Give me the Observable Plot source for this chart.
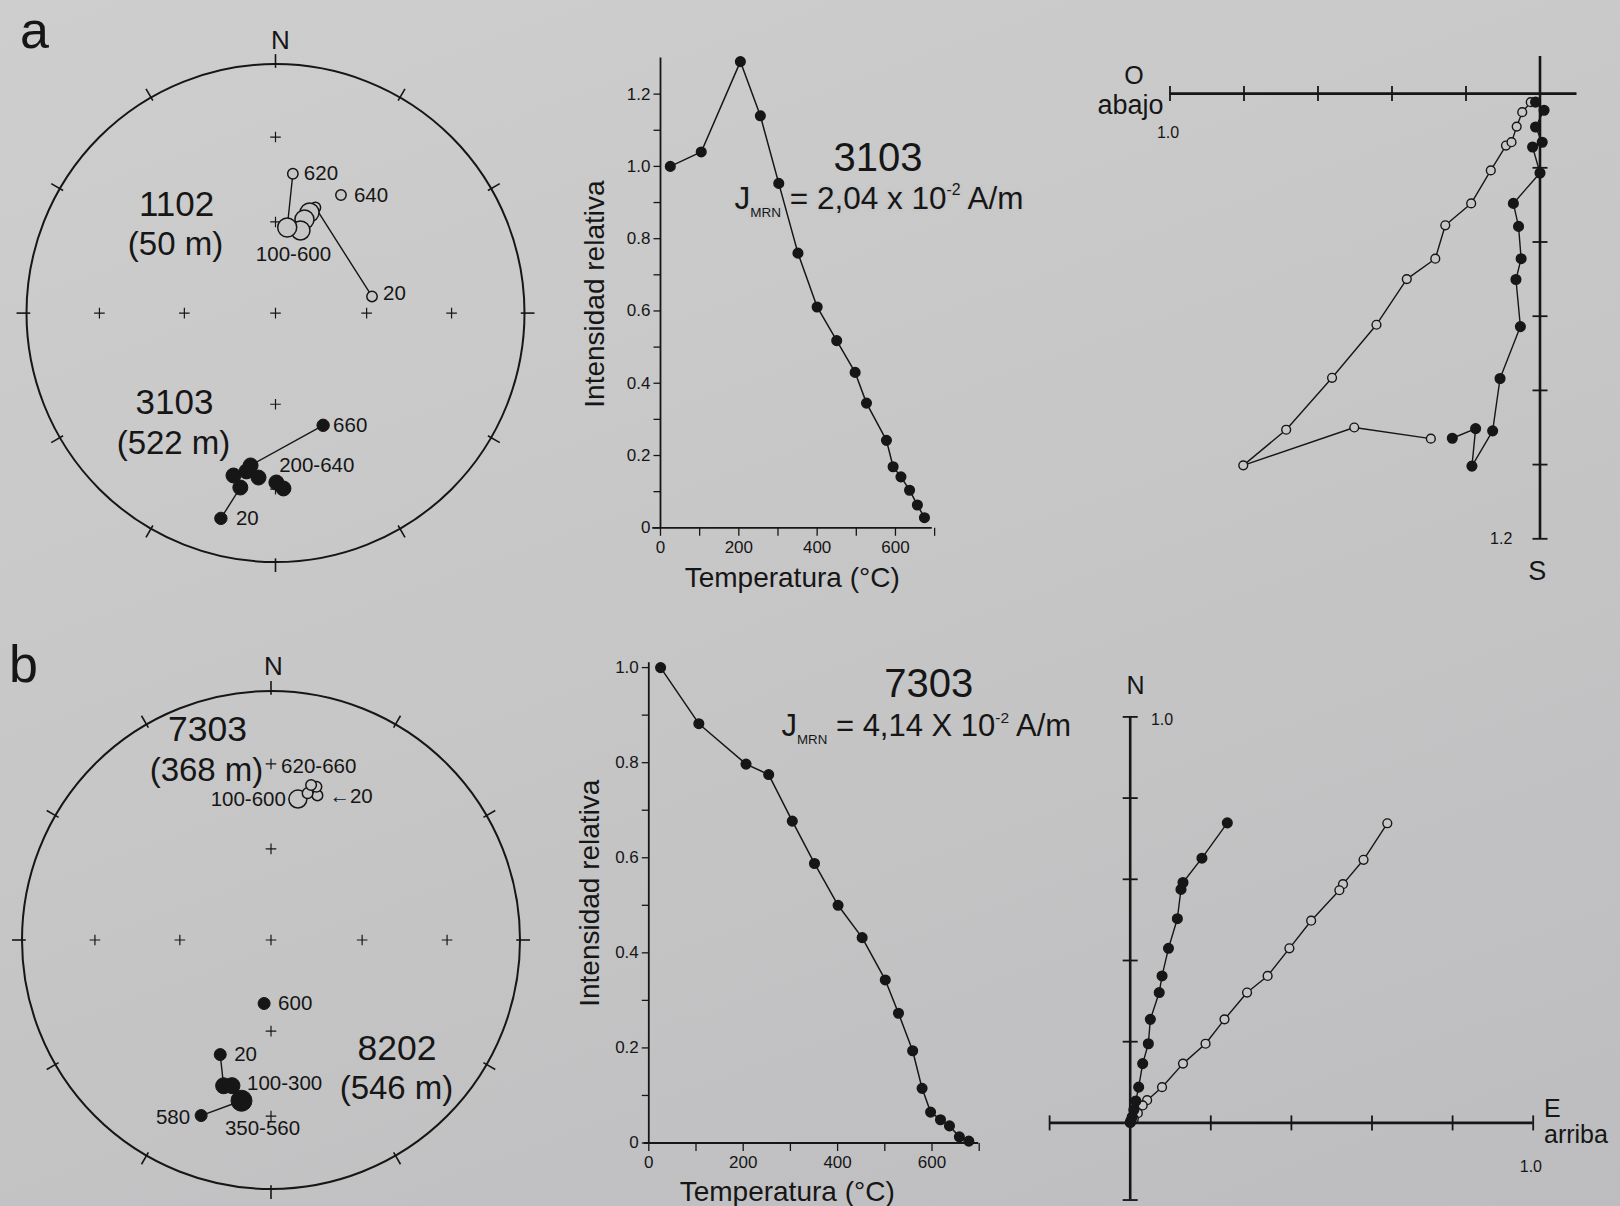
<!DOCTYPE html>
<html lang="es">
<head>
<meta charset="utf-8">
<title>Desmagnetización térmica</title>
<script src="https://cdn.jsdelivr.net/npm/d3@7"></script>
<script src="https://cdn.jsdelivr.net/npm/@observablehq/plot@0.6"></script>
<style>
  html, body { margin: 0; padding: 0; background: #c6c6c7; }
  #fig { position: relative; width: 1620px; height: 1206px; overflow: hidden;
         background: linear-gradient(160deg, #cecece 0%, #c7c7c8 45%, #bdbdbf 100%); }
  #fig svg { position: absolute; overflow: visible; }
</style>
</head>
<body>
<div id="fig"></div>
<script>
// ================= DATA =================
// --- Stereonet a: site 1102 (open = upper hemisphere) ---
const s1102_T = [20, 100, 200, 300, 400, 600, 620, 640];
const s1102_D = [80.2, 20.7, 18.7, 17.2, 16.8, 7.8, 7.1, 29.0];
const s1102_I = [-57.7, -52.6, -54.9, -57.7, -61.6, -61.6, -43.0, -44.9];
const s1102_path = [20, 100, 200, 300, 400, 600, 620];
// --- site 3103 (filled = lower hemisphere) ---
const s3103_T = [20, 100, 200, 250, 300, 400, 500, 600, 660];
const s3103_D = [194.9, 191.4, 194.5, 190.4, 189.3, 185.9, 179.7, 177.4, 157.0];
const s3103_I = [15.8, 29.3, 33.1, 35.6, 38.0, 34.0, 32.5, 30.2, 49.5];
const s3103_path = [20, 100, 200, 250, 300, 660];
// --- Stereonet b: site 7303 (open) ---
const s7303_T = [20, 100, 620, 640, 660];
const s7303_D = [17.8, 10.8, 14.0, 16.5, 14.5];
const s7303_I = [-38.9, -41.9, -39.1, -36.0, -35.9];
// --- site 8202 (filled) ---
const s8202_T = [20, 100, 300, 350, 580, 600];
const s8202_D = [203.9, 198.0, 195.0, 190.4, 201.7, 186.2];
const s8202_I = [48.3, 38.4, 39.3, 34.7, 25.1, 69.1];
const s8202_path = [20, 100, 300, 350, 580];
// --- net furniture ---
const netTickAz = [0, 30, 60, 90, 120, 150, 180, 210, 240, 270, 300, 330];
const gridAz = [0, 90, 180, 270];
const gridInc = [60, 30];

// --- Intensity curves ---
const intA_T = [25, 104, 204, 255, 302, 351, 400, 450, 497, 526, 577, 594, 614, 636, 656, 674];
const intA_J = [1.00, 1.04, 1.29, 1.14, 0.953, 0.760, 0.611, 0.518, 0.430, 0.345, 0.242, 0.169, 0.141, 0.104, 0.063, 0.028];
const intB_T = [25, 106, 206, 254, 304, 351, 401, 452, 501, 529, 559, 579, 597, 618, 637, 658, 678];
const intB_J = [1.000, 0.882, 0.797, 0.775, 0.677, 0.588, 0.500, 0.432, 0.343, 0.273, 0.194, 0.115, 0.065, 0.049, 0.036, 0.013, 0.004];
const tempTicks = [0, 100, 200, 300, 400, 500, 600, 700];
const tempLabels = [0, 200, 400, 600];
const intA_yTicks = [0, 0.1, 0.2, 0.3, 0.4, 0.5, 0.6, 0.7, 0.8, 0.9, 1.0, 1.1, 1.2];
const intA_yLabels = [0, 0.2, 0.4, 0.6, 0.8, 1.0, 1.2];
const intB_yTicks = [0, 0.1, 0.2, 0.3, 0.4, 0.5, 0.6, 0.7, 0.8, 0.9, 1.0];
const intB_yLabels = [0, 0.2, 0.4, 0.6, 0.8, 1.0];

// --- Zijderveld a (3103) ---
const zijA_hX = [-0.237, -0.174, -0.184, -0.128, -0.108, -0.053, -0.065, -0.051, -0.058, -0.072, 0.000, -0.020, 0.006, -0.012, 0.011, -0.012];
const zijA_hY = [-0.929, -0.903, -1.004, -0.909, -0.768, -0.628, -0.501, -0.445, -0.358, -0.296, -0.214, -0.144, -0.131, -0.090, -0.045, -0.023];
const zijA_vX = [-0.295, -0.502, -0.802, -0.686, -0.562, -0.442, -0.360, -0.283, -0.256, -0.186, -0.133, -0.092, -0.077, -0.063, -0.048, -0.025];
const zijA_vY = [-0.930, -0.900, -1.002, -0.906, -0.766, -0.623, -0.500, -0.445, -0.355, -0.296, -0.207, -0.140, -0.131, -0.089, -0.050, -0.023];
const zijA_hTicks = [-1.0, -0.8, -0.6, -0.4, -0.2];
const zijA_vTicks = [-0.2, -0.4, -0.6, -0.8, -1.0, -1.2];
// --- Zijderveld b (7303) ---
const zijB_hX = [0.241, 0.178, 0.131, 0.126, 0.117, 0.095, 0.079, 0.072, 0.050, 0.045, 0.031, 0.021, 0.014, 0.009, 0.005, 0.002, 0.000];
const zijB_hY = [0.739, 0.652, 0.592, 0.575, 0.503, 0.430, 0.362, 0.321, 0.255, 0.195, 0.146, 0.088, 0.054, 0.032, 0.015, 0.006, 0.001];
const zijB_vX = [0.638, 0.579, 0.528, 0.519, 0.449, 0.395, 0.341, 0.290, 0.234, 0.187, 0.131, 0.079, 0.042, 0.031, 0.019, 0.009, 0.002];
const zijB_vY = [0.738, 0.648, 0.588, 0.573, 0.498, 0.430, 0.362, 0.321, 0.255, 0.195, 0.146, 0.088, 0.056, 0.043, 0.024, 0.010, 0.002];
const zijB_hTicks = [-0.2, 0.2, 0.4, 0.6, 0.8, 1.0];
const zijB_vTicks = [-0.19, 0.2, 0.4, 0.6, 0.8, 1.0];

// ================= HELPERS =================
const INK = "#161616", BG = "#c7c7c8";
const FONT = '"Liberation Sans", Arial, Helvetica, sans-serif';
const STYLE = {background: "transparent", fontFamily: FONT, fontSize: "16px", color: INK, overflow: "visible"};
const rad = Math.PI / 180;
const fig = document.getElementById("fig");

function proj(D, I) {
  const r = Math.SQRT2 * Math.sin((90 - Math.abs(I)) / 2 * rad);
  return {x: r * Math.sin(D * rad), y: r * Math.cos(D * rad)};
}
function site(T, D, I) { return T.map((t, i) => ({T: t, D: D[i], I: I[i], ...proj(D[i], I[i])})); }
function pick(pts, temps) { return temps.map(t => pts.find(d => d.T === t)); }
function seg(x1, y1, x2, y2) { return {draw(c) { c.moveTo(x1, y1); c.lineTo(x2, y2); }}; }
function plus(h) { return {draw(c) { c.moveTo(-h, 0); c.lineTo(h, 0); c.moveTo(0, -h); c.lineTo(0, h); }}; }

function richify(svg) {
  svg.querySelectorAll("text").forEach(el => {
    const t = el.textContent;
    if (!/[_^]\{/.test(t)) return;
    const fs = parseFloat(getComputedStyle(el).fontSize) || 16;
    while (el.firstChild) el.removeChild(el.firstChild);
    let cur = 0, last = 0, m;
    const add = (s, off, scale) => {
      const ts = document.createElementNS("http://www.w3.org/2000/svg", "tspan");
      ts.textContent = s;
      ts.setAttribute("dy", (off - cur).toFixed(2));
      if (scale !== 1) ts.setAttribute("font-size", (fs * scale).toFixed(1));
      el.appendChild(ts); cur = off;
    };
    const re = /([_^])\{([^}]*)\}/g;
    while ((m = re.exec(t))) {
      if (m.index > last) add(t.slice(last, m.index), 0, 1);
      if (m[1] === "_") add(m[2], 0.26 * fs, 0.43); else add(m[2], -0.42 * fs, 0.5);
      last = re.lastIndex;
    }
    if (last < t.length) add(t.slice(last), 0, 1);
  });
}
function mount(svg, left, top) {
  svg.style.left = left + "px"; svg.style.top = top + "px";
  fig.appendChild(svg); richify(svg);
}
// free text placed in the panel's own pixel frame (annotation)
function note(str, x, y, o = {}) {
  return Plot.text([str], {frameAnchor: "top-left", dx: x, dy: y, text: d => d, fill: INK,
    fontFamily: FONT, lineAnchor: "bottom", textAnchor: "middle", ...o});
}
// label attached to a data point
function tag(pts, T, text, dx, dy, anchor = "start", fs = 20.5) {
  return Plot.text(pts.filter(d => d.T === T), {x: "x", y: "y", text: () => text, dx, dy,
    textAnchor: anchor, fontSize: fs, fill: INK, fontFamily: FONT});
}

// ================= STEREONETS =================
const gridPts = [{D: 0, I: 90}, ...gridInc.flatMap(i => gridAz.map(a => ({D: a, I: i})))].map(d => proj(d.D, d.I));
function net(box, cx, cy, R, extra) {
  const svg = Plot.plot({
    width: box.width, height: box.height, margin: 0,
    x: {domain: [-cx / R, (box.width - cx) / R], axis: null},
    y: {domain: [(cy - box.height) / R, cy / R], axis: null},
    style: STYLE,
    marks: [
      Plot.dot([{x: 0, y: 0}], {x: "x", y: "y", r: R, fill: "none", stroke: INK, strokeWidth: 2}),
      Plot.link(netTickAz, {
        x1: a => 0.985 * Math.sin(a * rad), y1: a => 0.985 * Math.cos(a * rad),
        x2: a => 1.04 * Math.sin(a * rad), y2: a => 1.04 * Math.cos(a * rad),
        stroke: INK, strokeWidth: 1.6}),
      Plot.dot(gridPts, {x: "x", y: "y", symbol: plus(5.3), fill: "none", stroke: INK, strokeWidth: 1.2}),
      ...extra
    ]
  });
  mount(svg, box.left, box.top);
}

const p1102 = site(s1102_T, s1102_D, s1102_I);
const p3103 = site(s3103_T, s3103_D, s3103_I);
const p7303 = site(s7303_T, s7303_D, s7303_I);
const p8202 = site(s8202_T, s8202_D, s8202_I);
const openDot = {x: "x", y: "y", fill: BG, stroke: INK, strokeWidth: 1.5};
const fullDot = {x: "x", y: "y", fill: INK, stroke: INK, strokeWidth: 1};

net({left: 0, top: 0, width: 580, height: 600}, 275, 312.6, 249, [
  Plot.line(pick(p1102, s1102_path), {x: "x", y: "y", stroke: INK, strokeWidth: 1.4}),
  Plot.line(pick(p3103, s3103_path), {x: "x", y: "y", stroke: INK, strokeWidth: 1.4}),
  Plot.dot(p1102.filter(d => [20, 100, 620, 640].includes(d.T)), {...openDot, r: 5.2}),
  Plot.dot(p1102.filter(d => d.T >= 200 && d.T <= 600), {...openDot, r: 9.5}),
  Plot.dot(p3103.filter(d => d.T === 20 || d.T === 660), {...fullDot, r: 6.2}),
  Plot.dot(p3103.filter(d => d.T > 20 && d.T < 660), {...fullDot, r: 7.5}),
  tag(p1102, 620, "620", 11, 0),
  tag(p1102, 640, "640", 13, 0),
  tag(p1102, 20, "20", 11, -3),
  tag(p1102, 400, "100-600", -7, 24, "middle"),
  tag(p3103, 660, "660", 10, 0),
  tag(p3103, 300, "200-640", 28.6, 0),
  tag(p3103, 20, "20", 15, 0),
  note("a", 34, 47, {fontSize: 52}),
  note("N", 280, 48, {fontSize: 26}),
  note("1102", 176, 215, {fontSize: 35}),
  note("(50 m)", 175, 254, {fontSize: 33}),
  note("3103", 174, 413.5, {fontSize: 35}),
  note("(522 m)", 173, 453.5, {fontSize: 33})
]);

net({left: 0, top: 600, width: 580, height: 606}, 270.5, 339.5, 249, [
  Plot.line(pick(p8202, s8202_path), {x: "x", y: "y", stroke: INK, strokeWidth: 1.4}),
  Plot.dot(p7303.filter(d => d.T === 100), {...openDot, r: 9}),
  Plot.dot(p7303.filter(d => d.T !== 100), {...openDot, r: 5.3}),
  Plot.dot(p8202.filter(d => [20, 580, 600].includes(d.T)), {...fullDot, r: 6}),
  Plot.dot(p8202.filter(d => d.T === 100 || d.T === 300), {...fullDot, r: 8}),
  Plot.dot(p8202.filter(d => d.T === 350), {...fullDot, r: 10.5}),
  tag(p7303, 100, "100-600", -12, 0, "end"),
  tag(p7303, 660, "620-660", -30, -19),
  tag(p7303, 20, "←20", 12, 1),
  tag(p8202, 600, "600", 14, 0),
  tag(p8202, 20, "20", 14, 0),
  tag(p8202, 300, "100-300", 15, -2),
  tag(p8202, 350, "350-560", 21, 28, "middle"),
  tag(p8202, 580, "580", -11, 2, "end"),
  note("b", 23, 81, {fontSize: 52}),
  note("N", 273, 74.2, {fontSize: 26}),
  note("7303", 207, 140.5, {fontSize: 35.5}),
  note("(368 m)", 206, 780.5 - 600, {fontSize: 33}),
  note("8202", 396.4, 459.1, {fontSize: 35.5}),
  note("(546 m)", 396, 498.8, {fontSize: 33})
]);

// ================= INTENSITY CURVES =================
function intensity(box, x0, kx, y0, ky, T, J, yTicks, yLabels, xAxis, yTop, texts) {
  const data = T.map((t, i) => ({T: t, J: J[i]}));
  const svg = Plot.plot({
    width: box.width, height: box.height, margin: 0,
    x: {domain: [-x0 / kx, (box.width - x0) / kx], axis: null},
    y: {domain: [(y0 - box.height) / ky, y0 / ky], axis: null},
    style: STYLE,
    marks: [
      Plot.ruleY([0], {x1: xAxis[0], x2: xAxis[1], stroke: INK, strokeWidth: 1.8}),
      Plot.ruleX([0], {y1: 0, y2: yTop, stroke: INK, strokeWidth: 1.8}),
      Plot.dot(tempTicks, {x: d => d, y: 0, symbol: seg(0, 0, 0, 8), fill: "none", stroke: INK, strokeWidth: 1.3}),
      Plot.dot(yTicks, {x: 0, y: d => d, symbol: seg(-7, 0, 0, 0), fill: "none", stroke: INK, strokeWidth: 1.3}),
      Plot.text(tempLabels, {x: d => d, y: 0, dy: 20, text: d => String(d), fontSize: 17, fill: INK, fontFamily: FONT}),
      Plot.text(yLabels, {x: 0, y: d => d, dx: -10, textAnchor: "end", text: d => d === 0 ? "0" : d.toFixed(1), fontSize: 17, fill: INK, fontFamily: FONT}),
      Plot.line(data, {x: "T", y: "J", stroke: INK, strokeWidth: 1.5}),
      Plot.dot(data, {x: "T", y: "J", r: 4.8, fill: INK, stroke: INK}),
      ...texts
    ]
  });
  mount(svg, box.left, box.top);
}

intensity({left: 540, top: 0, width: 560, height: 600}, 120, 0.3916, 527.3, 361.4,
  intA_T, intA_J, intA_yTicks, intA_yLabels, [-20, 694], 1.3, [
  note("3103", 337.5, 170, {fontSize: 40}),
  note("J_{MRN} = 2,04 x 10^{-2} A/m", 194, 208, {fontSize: 31.5, textAnchor: "start", stroke: BG, strokeWidth: 5, paintOrder: "stroke"}),
  note("Intensidad relativa", 55, 293.6, {fontSize: 28, rotate: -90, lineAnchor: "middle"}),
  note("Temperatura (°C)", 251.7, 586, {fontSize: 28})
]);

intensity({left: 540, top: 600, width: 520, height: 606}, 108.3, 0.472, 542.5, 475.4,
  intB_T, intB_J, intB_yTicks, intB_yLabels, [-10, 699], 1.01, [
  note("7303", 388.3, 96, {fontSize: 40}),
  note("J_{MRN} = 4,14 X 10^{-2} A/m", 241, 135.7, {fontSize: 31, textAnchor: "start"}),
  note("Intensidad relativa", 50, 292.7, {fontSize: 28, rotate: -90, lineAnchor: "middle"}),
  note("Temperatura (°C)", 246.7, 600, {fontSize: 28})
]);

// ================= ZIJDERVELD DIAGRAMS =================
function zij(box, x0, kx, y0, ky, hAxis, vAxis, hTicks, vTicks, H, V, texts) {
  const svg = Plot.plot({
    width: box.width, height: box.height, margin: 0,
    x: {domain: [-x0 / kx, (box.width - x0) / kx], axis: null},
    y: {domain: [(y0 - box.height) / ky, y0 / ky], axis: null},
    style: STYLE,
    marks: [
      Plot.ruleY([0], {x1: hAxis[0], x2: hAxis[1], stroke: INK, strokeWidth: 2.6}),
      Plot.ruleX([0], {y1: vAxis[0], y2: vAxis[1], stroke: INK, strokeWidth: 2.6}),
      Plot.dot(hTicks, {x: d => d, y: 0, symbol: seg(0, -7.5, 0, 7.5), fill: "none", stroke: INK, strokeWidth: 1.8}),
      Plot.dot(vTicks, {x: 0, y: d => d, symbol: seg(-7.5, 0, 7.5, 0), fill: "none", stroke: INK, strokeWidth: 1.8}),
      Plot.line(V, {x: "x", y: "y", stroke: INK, strokeWidth: 1.4}),
      Plot.line(H, {x: "x", y: "y", stroke: INK, strokeWidth: 1.4}),
      Plot.dot(V, {x: "x", y: "y", r: 4.4, fill: BG, stroke: INK, strokeWidth: 1.4}),
      Plot.dot(H, {x: "x", y: "y", r: 4.8, fill: INK, stroke: INK}),
      ...texts
    ]
  });
  mount(svg, box.left, box.top);
}
const zipXY = (X, Y) => X.map((x, i) => ({x, y: Y[i]}));

zij({left: 1060, top: 0, width: 560, height: 600}, 479.5, 370, 93.1, 371,
  [-1.0, 0.1], [0.1, -1.2], zijA_hTicks, zijA_vTicks,
  zipXY(zijA_hX, zijA_hY), zipXY(zijA_vX, zijA_vY), [
  note("O", 73.4, 83.4, {fontSize: 25}),
  note("abajo", 70, 113.2, {fontSize: 27}),
  note("1.0", 107.5, 132, {fontSize: 16, lineAnchor: "middle"}),
  note("1.2", 451.8, 538, {fontSize: 16, lineAnchor: "middle", textAnchor: "end"}),
  note("S", 476.8, 579, {fontSize: 27})
]);

zij({left: 1000, top: 600, width: 620, height: 606}, 129.7, 403, 522.4, 406,
  [-0.2, 1.0], [-0.19, 1.0], zijB_hTicks, zijB_vTicks,
  zipXY(zijB_hX, zijB_hY), zipXY(zijB_vX, zijB_vY), [
  note("N", 135, 93, {fontSize: 25}),
  note("1.0", 150.4, 119, {fontSize: 16, lineAnchor: "middle", textAnchor: "start"}),
  note("E", 543.5, 516, {fontSize: 25, textAnchor: "start"}),
  note("arriba", 543.5, 542.2, {fontSize: 25, textAnchor: "start"}),
  note("1.0", 530.4, 566.6, {fontSize: 16, lineAnchor: "middle"})
]);
</script>
</body>
</html>
